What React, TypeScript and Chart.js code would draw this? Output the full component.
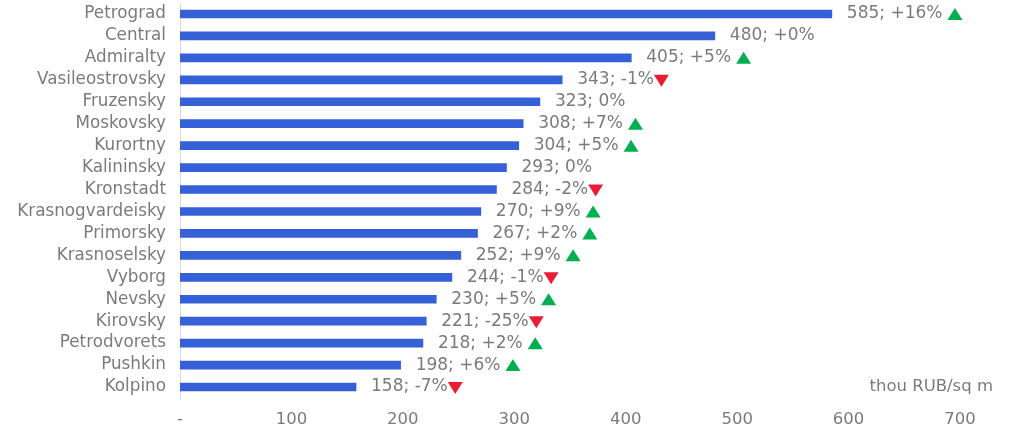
import React, { useEffect, useRef } from 'react';
import { Chart, registerables } from 'chart.js';

Chart.register(...registerables);

const districts = [
  'Petrograd', 'Central', 'Admiralty', 'Vasileostrovsky', 'Fruzensky', 'Moskovsky',
  'Kurortny', 'Kalininsky', 'Kronstadt', 'Krasnogvardeisky', 'Primorsky', 'Krasnoselsky',
  'Vyborg', 'Nevsky', 'Kirovsky', 'Petrodvorets', 'Pushkin', 'Kolpino',
];
const prices = [585, 480, 405, 343, 323, 308, 304, 293, 284, 270, 267, 252, 244, 230, 221, 218, 198, 158];
const changes = ['+16%', '+0%', '+5%', '-1%', '0%', '+7%', '+5%', '0%', '-2%', '+9%', '+2%', '+9%', '-1%', '+5%', '-25%', '+2%', '+6%', '-7%'];
const trends = ['up', 'none', 'up', 'down', 'none', 'up', 'up', 'none', 'down', 'up', 'up', 'up', 'down', 'up', 'down', 'up', 'up', 'down'];
const unitLabel = 'thou RUB/sq m';

const FONT = "'DejaVu Sans', Verdana, sans-serif";
const GREY = '#7b7b7b';

const labelPlugin = {
  id: 'valueLabels',
  afterDatasetsDraw(chart: any) {
    const ctx = chart.ctx;
    const meta = chart.getDatasetMeta(0);
    ctx.save();
    ctx.font = `17px ${FONT}`;
    ctx.textBaseline = 'middle';
    meta.data.forEach((bar: any, i: number) => {
      const text = `${prices[i]}; ${changes[i]}`;
      const tx = bar.x + 15;
      ctx.fillStyle = GREY;
      ctx.textAlign = 'left';
      ctx.fillText(text, tx, bar.y);
      const w = ctx.measureText(text).width;
      const t = trends[i];
      if (t === 'none') return;
      const x0 = tx + w + (t === 'up' ? 5 : 0);
      ctx.beginPath();
      if (t === 'up') {
        ctx.fillStyle = '#00b050';
        ctx.moveTo(x0, bar.y + 6);
        ctx.lineTo(x0 + 15, bar.y + 6);
        ctx.lineTo(x0 + 7.5, bar.y - 6);
      } else {
        ctx.fillStyle = '#ea1c34';
        ctx.moveTo(x0, bar.y - 5);
        ctx.lineTo(x0 + 15, bar.y - 5);
        ctx.lineTo(x0 + 7.5, bar.y + 7);
      }
      ctx.closePath();
      ctx.fill();
    });
    const last = meta.data[meta.data.length - 1];
    ctx.font = `16.5px ${FONT}`;
    ctx.fillStyle = GREY;
    ctx.textAlign = 'right';
    ctx.fillText(unitLabel, 993, last.y);
    ctx.restore();
  },
};

const App = () => {
  const chartRef = useRef<HTMLCanvasElement>(null);

  useEffect(() => {
    if (!chartRef.current) return;
    const myChart = new Chart(chartRef.current, {
      type: 'bar',
      data: {
        labels: districts,
        datasets: [
          {
            data: prices,
            backgroundColor: '#3560d8',
            barThickness: 8,
          },
        ],
      },
      options: {
        indexAxis: 'y',
        responsive: false,
        animation: false,
        layout: { padding: { top: 3, right: 64, left: 0, bottom: 0 } },
        plugins: { legend: { display: false }, tooltip: { enabled: false } },
        scales: {
          x: {
            min: 0,
            max: 700,
            grid: { display: false, drawTicks: false },
            border: { display: false },
            ticks: {
              stepSize: 100,
              padding: 12,
              color: GREY,
              font: { family: FONT, size: 16.5 },
              callback: (v: any) => (v === 0 ? '-' : v),
            },
            afterFit: (s: any) => {
              s.height = 46;
              s.paddingLeft = 0;
              s.paddingRight = 0;
            },
          },
          y: {
            grid: { display: false, drawTicks: false },
            border: { display: true, color: '#d9d9d9', width: 1 },
            ticks: {
              autoSkip: false,
              padding: 14,
              color: GREY,
              font: { family: FONT, size: 16.8 },
            },
            afterFit: (s: any) => {
              s.width = 180;
              s.paddingTop = 0;
              s.paddingBottom = 0;
            },
          },
        },
      },
      plugins: [labelPlugin],
    });
    return () => {
      myChart.destroy();
    };
  }, []);

  return (
    <div style={{ position: 'fixed', left: 0, top: 0, width: 1024, height: 444, background: '#fff' }}>
      <canvas ref={chartRef} width={1024} height={444} />
    </div>
  );
};

export default App;
